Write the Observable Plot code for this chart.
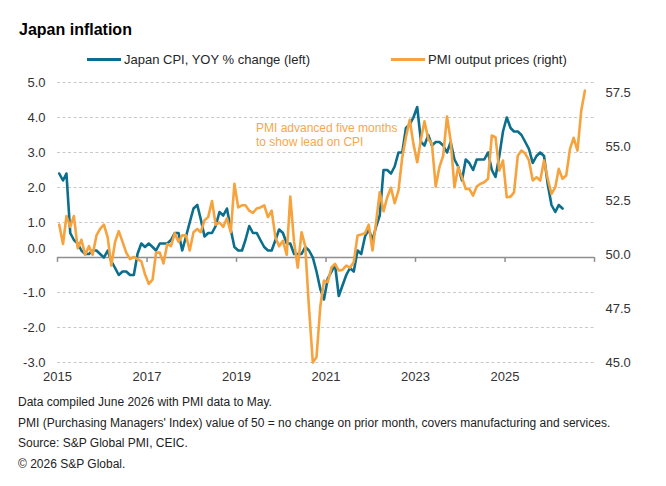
<!DOCTYPE html>
<html>
<head>
<meta charset="utf-8">
<script src="https://cdn.jsdelivr.net/npm/d3@7"></script>
<script src="https://cdn.jsdelivr.net/npm/@observablehq/plot@0.6"></script>
<style>
  body { margin: 0; background: #fff; font-family: "Liberation Sans", Arial, sans-serif; }
  #wrap { position: relative; width: 666px; height: 486px; overflow: hidden; background: #fff; }
  #title { position: absolute; left: 19px; top: 21px; font-size: 16px; font-weight: bold; color: #000; }
  .leg { position: absolute; top: 52px; font-size: 13px; color: #262626; display: flex; align-items: center; white-space: nowrap; }
  .leg .sw { display: inline-block; width: 34px; height: 3px; margin-right: 3px; }
  #chart { position: absolute; left: 0; top: 70px; }
  #note { position: absolute; left: 256px; top: 121px; font-size: 12px; color: #f5a84c; line-height: 14px; }
  #foot { position: absolute; left: 18px; top: 392px; font-size: 12px; color: #222; line-height: 20.7px; white-space: nowrap; }
</style>
</head>
<body>
<div id="wrap">
  <div id="title">Japan inflation</div>
  <div class="leg" id="leg1" style="left:87px"></div>
  <div class="leg" id="leg2" style="left:391px"></div>
  <div id="chart"></div>
  <div id="note"></div>
  <div id="foot"></div>
</div>
<script>
// ---------------- data ----------------
const titleText = "Japan inflation";
const seriesNames = ["Japan CPI, YOY % change (left)", "PMI output prices (right)"];
const noteLines = ["PMI advanced five months", "to show lead on CPI"];
const footLines = [
  "Data compiled June 2026 with PMI data to May.",
  "PMI (Purchasing Managers' Index) value of 50 = no change on prior month, covers manufacturing and services.",
  "Source: S&P Global PMI, CEIC.",
  "\u00A9 2026 S&P Global."
];
const startYear = 2015; // first month: Jan 2015

// Japan CPI, YOY % change, monthly from Jan 2015 (left axis)
const cpi = [
  2.4, 2.2, 2.4, 0.7, 0.5, 0.4, 0.2, 0.1, 0.1, 0.2, 0.2, 0.1,
  0.0, 0.2, -0.1, -0.3, -0.5, -0.4, -0.4, -0.5, -0.5, 0.1, 0.4, 0.3,
  0.4, 0.3, 0.2, 0.4, 0.4, 0.4, 0.5, 0.7, 0.7, 0.2, 0.6, 1.0,
  1.4, 1.5, 1.1, 0.6, 0.7, 0.7, 0.9, 1.3, 1.2, 1.4, 0.8, 0.3,
  0.2, 0.2, 0.5, 0.9, 0.7, 0.7, 0.5, 0.3, 0.2, 0.2, 0.5, 0.8,
  0.7, 0.4, 0.4, 0.1, 0.1, 0.1, 0.3, 0.2, 0.0, -0.4, -0.9, -1.2,
  -0.6, -0.4, -0.2, -1.1, -0.8, -0.5, -0.3, -0.4, 0.2, 0.1, 0.6, 0.8,
  0.5, 0.9, 1.2, 2.5, 2.5, 2.4, 2.6, 3.0, 3.0, 3.7, 3.8, 4.0,
  4.3, 3.3, 3.2, 3.5, 3.2, 3.3, 3.3, 3.2, 3.0, 3.3, 2.8, 2.6,
  2.2, 2.8, 2.7, 2.5, 2.8, 2.8, 2.8, 3.0, 2.5, 2.3, 2.9, 3.6,
  4.0, 3.7, 3.6, 3.6, 3.5, 3.3, 3.1, 2.7, 2.9, 3.0, 2.9, 2.1,
  1.5, 1.3, 1.5, 1.4
];

// PMI output prices (advanced five months), monthly from Jan 2015 (right axis)
const pmi = [
  51.4, 50.5, 51.8, 51.3, 51.8, 50.3, 50.7, 50.0, 50.4, 50.0, 50.9, 51.2,
  51.4, 50.8, 49.5, 50.6, 51.1, 50.6, 50.1, 49.8, 49.9, 49.8, 49.7, 49.1,
  48.65, 48.85, 50.1, 50.1, 49.6, 50.5, 50.4, 51.0, 50.6, 50.9, 50.9, 50.2,
  51.05, 51.2, 51.05, 51.6, 51.75, 52.5, 51.4, 51.5, 51.3, 51.7, 51.05, 53.3,
  52.2, 52.3, 52.3, 52.05, 51.95, 52.15, 52.2, 52.3, 51.75, 52.05, 50.8, 50.4,
  50.65, 50.0, 52.7, 50.6, 49.4, 51.05, 50.4, 47.5, 45.0, 45.25, 47.6, 48.8,
  48.73, 49.42, 49.58, 49.27, 49.3, 49.5, 49.4, 49.66, 50.9, 50.94, 51.0, 51.4,
  50.2, 51.6, 52.9, 52.02, 52.67, 53.11, 52.4, 52.98, 54.53, 55.46, 56.27, 55.15,
  54.3, 55.38, 56.2, 55.38, 55.15, 53.17, 54.07, 54.6, 56.42, 55.3, 53.14, 54.07,
  53.6, 53.06, 53.06, 52.75, 53.17, 53.3, 53.37, 53.53, 55.54, 55.46, 53.91, 54.38,
  52.67, 52.7, 52.9, 54.6, 54.84, 54.7, 54.38, 53.45, 53.6, 53.45, 54.38, 53.53,
  52.83, 53.14, 53.99, 53.53, 53.68, 54.92, 55.43, 54.84, 56.7, 57.63
];

const leftDomain = [-3, 5];
const rightDomain = [45, 58];
const leftTicks = [-3, -2, -1, 0, 1, 2, 3, 4, 5];
const rightTicks = [45, 47.5, 50, 52.5, 55, 57.5];
const yearLabels = [2015, 2017, 2019, 2021, 2023, 2025];
const yearTickMarks = [2015, 2017, 2019, 2021, 2023, 2025, 2027];
const xDomainYears = [2015, 2027];

const colors = { cpi: "#0b6e8c", pmi: "#f6a23d", grid: "#c9c9c9", base: "#8f8f8f", text: "#333333" };

// ---------------- build ----------------
const monthDate = i => new Date(Date.UTC(startYear, i, 15));
const cpiData = cpi.map((v, i) => ({ date: monthDate(i), value: v }));
const pmiData = pmi.map((v, i) => ({ date: monthDate(i), value: v }));

const k = (leftDomain[1] - leftDomain[0]) / (rightDomain[1] - rightDomain[0]);
const toLeft = p => leftDomain[0] + (p - rightDomain[0]) * k;
const fromLeft = c => rightDomain[0] + (c - leftDomain[0]) / k;
const yearDate = y => new Date(Date.UTC(y, 0, 1));
const fmt1 = d => d.toFixed(1);

const font = '"Liberation Sans", Arial, sans-serif';

const chart = Plot.plot({
  width: 666,
  height: 320,
  marginTop: 12,
  marginBottom: 28,
  marginLeft: 57,
  marginRight: 72,
  style: { fontFamily: font, fontSize: "13px", color: colors.text, background: "#fff", overflow: "visible" },
  x: { type: "utc", domain: xDomainYears.map(yearDate) },
  y: { domain: leftDomain },
  marks: [
    Plot.ruleY(leftTicks.filter(d => d !== 0), { stroke: colors.grid, strokeDasharray: "3,2.5", strokeWidth: 1 }),
    Plot.ruleY([0], { stroke: colors.base, strokeWidth: 1.5 }),
    Plot.ruleX(yearTickMarks.map(yearDate), { y1: 0, y2: -0.14, stroke: colors.base, strokeWidth: 1.5 }),
    Plot.line(cpiData, { x: "date", y: "value", stroke: colors.cpi, strokeWidth: 2.6, strokeLinejoin: "round" }),
    Plot.line(pmiData, { x: "date", y: d => toLeft(d.value), stroke: colors.pmi, strokeWidth: 2.6, strokeLinejoin: "round" }),
    Plot.axisX(yearLabels.map(yearDate), { tickSize: 0, tickPadding: 9, fontSize: 13, tickFormat: d => String(d.getUTCFullYear()), label: null }),
    Plot.axisY(leftTicks.filter(d => d !== 0), { anchor: "left", tickSize: 0, tickPadding: 12, fontSize: 13, tickFormat: fmt1, label: null }),
    Plot.axisY([0], { anchor: "left", tickSize: 0, tickPadding: 12, fontSize: 13, tickFormat: fmt1, dy: -9, label: null }),
    Plot.axisY(rightTicks.map(toLeft), { anchor: "right", tickSize: 0, tickPadding: 11, fontSize: 13, tickFormat: d => fromLeft(d).toFixed(1), label: null })
  ]
});
document.getElementById("chart").appendChild(chart);

// legend, note, footer
function legend(el, name, color) {
  const sw = document.createElement("span");
  sw.className = "sw";
  sw.style.background = color;
  el.appendChild(sw);
  el.appendChild(document.createTextNode(name));
}
legend(document.getElementById("leg1"), seriesNames[0], colors.cpi);
legend(document.getElementById("leg2"), seriesNames[1], colors.pmi);
document.getElementById("title").textContent = titleText;
document.getElementById("note").innerHTML = noteLines.map(s => `<div>${s}</div>`).join("");
document.getElementById("foot").innerHTML = footLines.map(s => `<div>${s.replace(/&/g, "&amp;")}</div>`).join("");
</script>
</body>
</html>
